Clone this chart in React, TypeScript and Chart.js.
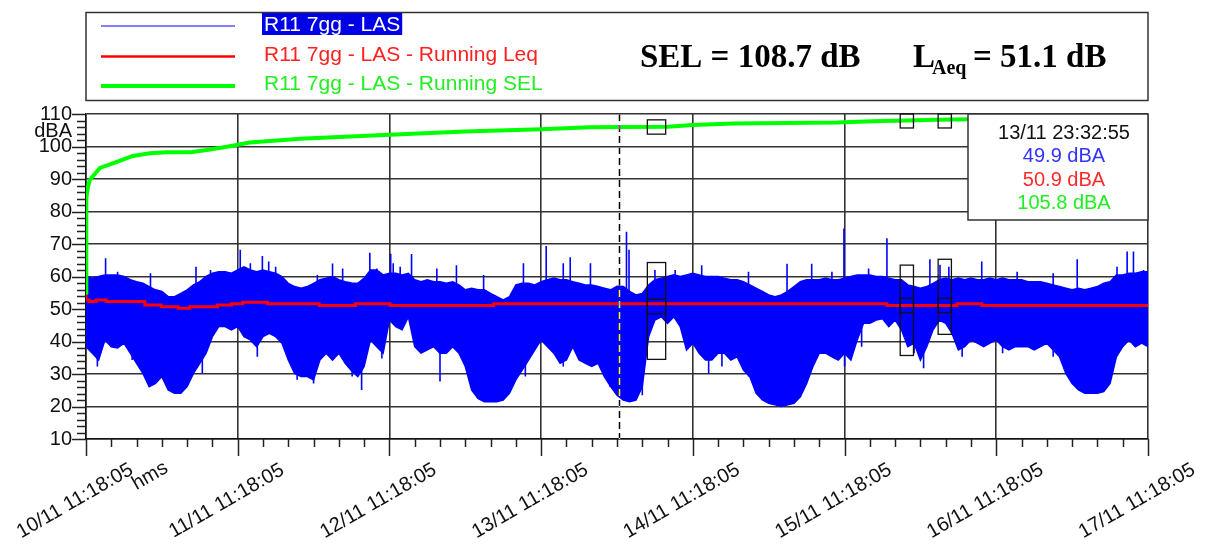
import React, { useEffect, useRef } from "react";
import { Chart, registerables } from "chart.js";

Chart.register(...registerables);

const W = 1214;
const H = 545;

// ---- data (x in hours since 10/11 11:18:05) ----
const dayLabels = [
  "10/11 11:18:05",
  "11/11 11:18:05",
  "12/11 11:18:05",
  "13/11 11:18:05",
  "14/11 11:18:05",
  "15/11 11:18:05",
  "16/11 11:18:05",
  "17/11 11:18:05",
];
const yTicks = [10, 20, 30, 40, 50, 60, 70, 80, 90, 100, 110];

// LAS hourly envelope (upper / lower of the dense signal), hours 0..168
const lasUpper = [
  60, 59.5, 60, 60.5, 60.5, 60.5, 60, 59, 58.4, 57.9, 56.9, 55.9, 55.4, 53.8, 53.8, 54.8, 55.9, 57.4, 58.4, 60,
  61, 61.5, 61.5, 61, 62, 63, 62, 61.5, 62, 61.5, 61, 60, 57.9, 56.9, 56.4, 56.9, 57.9, 59, 59.5, 60,
  59, 58.4, 58, 57.9, 59.5, 62, 62, 60.5, 61, 61, 60.5, 61, 59, 58.4, 59, 58.4, 58.4, 57.9, 58.4, 57.4,
  55.9, 56.4, 55.9, 55.9, 54.8, 53.8, 52.8, 53.8, 57.4, 57.9, 57.9, 57.4, 58.4, 59, 59.5, 59, 59, 58.4, 57.9, 57.4,
  57.4, 56.9, 56.4, 55.9, 57, 56.9, 55.4, 54.3, 54.8, 57.4, 59, 59.5, 60, 60.5, 60, 60.5, 61, 60.5, 60, 60,
  60, 59.5, 59, 59, 58.4, 57.4, 56.4, 55.4, 54.3, 53.8, 54.3, 55.4, 56.9, 58.4, 59, 59, 59, 59.5, 59, 59,
  59.5, 60, 60.5, 60.5, 60.5, 60, 60, 59.5, 59, 59, 57.4, 56.9, 56.4, 56.9, 57.9, 59, 59.5, 59, 59.5, 59,
  59.5, 59, 59, 59.5, 59, 59.5, 59, 59, 59, 58.4, 58.4, 58.4, 57.9, 57.4, 56.9, 56.4, 55.9, 56.4, 55.9, 56.4,
  56.9, 57.9, 58.4, 60.5, 60.5, 61, 61, 61.5, 61.5,
];
const lasLower = [
  38.4, 36.4, 34.3, 40.5, 38.4, 38, 39.5, 36.4, 33.3, 30.2, 26.1, 27.1, 29.2, 25.1, 24.1, 24.1, 26.1, 30.2, 33.3, 36.4,
  41.5, 44.6, 44.6, 43.6, 44.6, 41.5, 40.5, 38.4, 41.5, 42.5, 41.5, 39.5, 34.3, 30.2, 29.2, 29.2, 28.2, 34.3, 36.4, 34.3,
  36.4, 33.3, 31, 29.2, 32.3, 40.5, 38.4, 36.4, 46.6, 44.6, 43.6, 47.6, 38.4, 36.4, 37.4, 38.4, 36.4, 36.4, 38.4, 36.4,
  32.3, 25.1, 22.5, 21.5, 21.5, 21.5, 22, 24.1, 28.2, 31.2, 34.3, 37.4, 40.5, 38.4, 36.4, 33.3, 34.3, 38.4, 34.3, 33.3,
  32.3, 33.3, 29.2, 26.1, 23.5, 22, 21.5, 22, 26.1, 41.5, 46.6, 47.6, 45.6, 47.6, 44.6, 37.4, 39.5, 36.4, 34.3, 34.3,
  36.4, 36.4, 34.3, 35.3, 31.2, 29.2, 24.1, 22, 21, 20.5, 20, 20.5, 21, 23, 27.1, 32.3, 36.4, 36.4, 35.3, 34.3,
  36.4, 34.3, 40.5, 45.6, 45.6, 46.6, 47, 44.6, 46.6, 43.6, 38.4, 39.5, 34.3, 38.4, 43.6, 46.6, 45.6, 42.5, 37.4, 38.4,
  40.5, 39.5, 38.4, 39.5, 40.5, 38.4, 37.4, 38.4, 38.4, 38.4, 37.4, 38.4, 39.5, 37.4, 35.3, 30.2, 27.1, 25.1, 24.1, 24.1,
  24.1, 24.6, 27.1, 35.3, 38.4, 40.5, 38.4, 39.5, 38.4,
];
// isolated LAS peaks above the dense band [hour, dB]
const lasPeaks: [number, number][] = [
  [3.1, 65.6], [5, 61.5], [10.2, 61], [17.4, 63], [19.7, 62], [24.4, 68.2], [26, 64.1], [27.9, 66.3],
  [28.9, 64.6], [30, 63], [36.6, 60.5], [39, 64], [40.6, 62.5], [44.9, 67.3], [46, 62.5], [48.2, 67],
  [48.6, 64.1], [49.7, 63], [51.5, 66.9], [55.5, 62.5], [58.6, 63.5], [62.9, 60.5], [69.2, 64.1],
  [72.8, 69.4], [75.5, 64.1], [76.6, 65.9], [79.8, 64.1], [85.5, 73.8], [85.9, 68.2], [90, 62],
  [93.2, 62], [97.4, 63.5], [104.8, 61.5], [110.9, 63.9], [114.8, 63.9], [118, 61.5], [119.9, 74.8],
  [123.8, 62.5], [126.7, 71.8], [133.5, 65.3], [135.1, 63.6], [136.5, 63], [141.7, 64.6], [147.3, 61.5],
  [153, 61], [156.8, 65.3], [163.1, 63], [164.7, 67.7], [165.7, 67.7], [167.3, 62],
];
// isolated LAS dips below the dense band [hour, dB]
const lasDips: [number, number][] = [
  [1.8, 32.3], [7.3, 34.3], [18.4, 30.2], [27.1, 35.3], [33.4, 28.2], [36, 27.1], [42.1, 29.2],
  [43.6, 25.1], [46.8, 34.8], [56, 27.7], [69.5, 29.2], [75.5, 32.3], [82.9, 26.1], [88, 23.5],
  [98.5, 30.2], [100.6, 32.3], [104.8, 29.2], [120, 32.3], [122.7, 38.4], [131, 36.4], [132.5, 31.8],
  [138.6, 35.3], [145, 36.4], [153, 35.3], [155.2, 30.2],
];
const peakBase = 52;
const dipBase = 46;
// Running Leq: level changes [start hour, dB]
const leqSteps: [number, number][] = [
  [0, 55.5], [0.5, 52.8], [1.6, 52.3], [3.2, 52.8], [9.3, 52.3], [11.9, 51.2], [14.6, 50.7], [16.4, 50.2],
  [20.8, 50.7], [23, 51.2], [24.8, 51.6], [28.7, 52.1], [36.9, 51.6], [42.6, 51.1], [48.1, 51.6], [64.5, 51.1],
  [126.7, 51.6], [137.8, 51.1], [141.7, 51.6], [154.1, 51.1], [168, 51.1],
];
// Running SEL [hour, dB]
const selCurve: [number, number][] = [
  [0, 55], [0.05, 84], [0.3, 87.5], [0.6, 89.7], [2.2, 93.4], [4.9, 95.3], [7.4, 97.1], [10.1, 97.9],
  [12.8, 98.2], [16.5, 98.2], [19.1, 98.9], [22.3, 99.9], [25.9, 101.2], [33.9, 102.4], [48, 103.6],
  [60, 104.6], [72, 105.3], [79.7, 105.9], [92, 106.1], [96, 106.6], [102.4, 107.1], [118.8, 107.4],
  [124.5, 107.8], [134.7, 108.2], [139.6, 108.4], [168, 108.7],
];
// marker boxes: hour spans and dB ranges [SEL, LAS max/min, Leq]
const markerStart = [88.8, 128.8, 134.8];
const markerEnd = [91.7, 130.9, 136.9];
const markerSel: [number, number][] = [[103.8, 108.2], [105.7, 110], [105.7, 110]];
const markerLas: [number, number][] = [[34.5, 64.3], [35.7, 63.5], [42.2, 65.3]];
const markerLeq: [number, number][] = [[48.5, 53], [48.9, 53.3], [48.9, 53.3]];

const cursorHour = 84.25;
const cursorTime = "13/11 23:32:55";
const cursorValues = ["49.9 dBA", "50.9 dBA", "105.8 dBA"];

const seriesNames = ["R11 7gg - LAS", "R11 7gg - LAS - Running Leq", "R11 7gg - LAS - Running SEL"];
const selText = "SEL = 108.7 dB";
const laeqValue = "= 51.1 dB";

const BLUE = "#0000ff";
const RED = "#ff0000";
const GREEN = "#00ff00";
const SANS = '"Liberation Sans", Arial, sans-serif';
const SERIF = '"Liberation Serif", "Times New Roman", serif';

const decoPlugin = {
  id: "deco",
  beforeDraw(chart: any) {
    const ctx = chart.ctx;
    ctx.save();
    ctx.fillStyle = "#ffffff";
    ctx.fillRect(0, 0, chart.width, chart.height);
    ctx.restore();
  },
  afterDraw(chart: any) {
    const ctx: CanvasRenderingContext2D = chart.ctx;
    const xs = chart.scales.x;
    const ys = chart.scales.y;
    const { left, right, top, bottom } = chart.chartArea;
    ctx.save();

    // tick marks
    ctx.strokeStyle = "#222";
    ctx.lineWidth = 1.5;
    ctx.beginPath();
    for (let v = 10; v <= 110; v += 2) {
      const y = Math.round(ys.getPixelForValue(v)) + 0.5;
      const len = v % 10 === 0 ? 14 : 9;
      ctx.moveTo(left - len, y);
      ctx.lineTo(left, y);
    }
    for (let h = 0; h <= 168; h += 4) {
      const x = Math.round(xs.getPixelForValue(h)) + 0.5;
      const len = h % 24 === 0 ? 17 : 8;
      ctx.moveTo(x, bottom);
      ctx.lineTo(x, bottom + len);
    }
    ctx.stroke();

    // x labels (rotated)
    ctx.fillStyle = "#111";
    ctx.font = `20px ${SANS}`;
    ctx.textAlign = "center";
    ctx.textBaseline = "middle";
    dayLabels.forEach((lab, i) => {
      const x = xs.getPixelForValue(i * 24);
      ctx.save();
      ctx.translate(x - 11, 501);
      ctx.rotate((-30 * Math.PI) / 180);
      ctx.fillText(lab, 0, 0);
      ctx.restore();
    });
    ctx.save();
    ctx.translate(left + 64, 476);
    ctx.rotate((-30 * Math.PI) / 180);
    ctx.fillText("hms", 0, 0);
    ctx.restore();

    // y unit
    ctx.textAlign = "right";
    ctx.textBaseline = "alphabetic";
    ctx.fillText("dBA", left - 14, 136.5);

    // marker boxes
    ctx.strokeStyle = "#111";
    ctx.lineWidth = 1.3;
    markerStart.forEach((h0, i) => {
      const x0 = xs.getPixelForValue(h0);
      const x1 = xs.getPixelForValue(markerEnd[i]);
      [markerSel[i], markerLas[i], markerLeq[i]].forEach(([lo, hi]) => {
        const y0 = ys.getPixelForValue(hi);
        const y1 = ys.getPixelForValue(lo);
        ctx.strokeRect(x0, y0, x1 - x0, y1 - y0);
      });
    });

    // cursor (inverting dashed line)
    ctx.save();
    ctx.globalCompositeOperation = "difference";
    ctx.strokeStyle = "#ffffff";
    ctx.lineWidth = 1.5;
    ctx.setLineDash([7, 4]);
    const cx = Math.round(xs.getPixelForValue(cursorHour)) + 0.5;
    ctx.beginPath();
    ctx.moveTo(cx, top);
    ctx.lineTo(cx, bottom);
    ctx.stroke();
    ctx.restore();

    // info box
    const bx = right - 180;
    const bw = 180;
    const bh = 106;
    ctx.fillStyle = "#fff";
    ctx.fillRect(bx, top, bw, bh);
    ctx.strokeStyle = "#333";
    ctx.lineWidth = 1.5;
    ctx.strokeRect(bx, top, bw, bh);
    ctx.font = `20px ${SANS}`;
    ctx.textAlign = "center";
    ctx.textBaseline = "alphabetic";
    const tcx = bx + 96;
    ctx.fillStyle = "#111";
    ctx.fillText(cursorTime, tcx, top + 24.5);
    const infoColors = ["#3333ff", "#ff2a2a", "#22ee22"];
    cursorValues.forEach((t, i) => {
      ctx.fillStyle = infoColors[i];
      ctx.fillText(t, tcx, top + 48 + i * 23.5);
    });

    // legend box
    ctx.strokeStyle = "#333";
    ctx.lineWidth = 1.5;
    ctx.strokeRect(left, 12.5, right - left, 88);
    const rowsLineY = [26, 56.5, 86];
    const rowsTextY = [31, 61, 90];
    const lineW = [1, 2.5, 4];
    const cols = [BLUE, RED, GREEN];
    const txtCols = ["#ffffff", "#ff2020", "#22ee22"];
    ctx.font = `21px ${SANS}`;
    ctx.textAlign = "left";
    seriesNames.forEach((name, i) => {
      ctx.strokeStyle = cols[i];
      ctx.lineWidth = lineW[i];
      ctx.beginPath();
      ctx.moveTo(left + 15, rowsLineY[i]);
      ctx.lineTo(left + 149, rowsLineY[i]);
      ctx.stroke();
      const tw = ctx.measureText(name).width;
      if (i === 0) {
        ctx.fillStyle = "#0000e6";
        ctx.fillRect(262, 13, tw + 4, 22);
      }
      ctx.fillStyle = txtCols[i];
      ctx.fillText(name, 264, rowsTextY[i]);
    });

    // SEL / LAeq
    ctx.fillStyle = "#000";
    ctx.font = `bold 33px ${SERIF}`;
    ctx.fillText(selText, 640, 67);
    ctx.fillText("L", 913, 67);
    ctx.font = `bold 20px ${SERIF}`;
    ctx.fillText("Aeq", 932, 74);
    ctx.font = `bold 33px ${SERIF}`;
    ctx.fillText(laeqValue, 973, 67);

    ctx.restore();
  },
};

export default function App() {
  const ref = useRef<HTMLCanvasElement>(null);
  useEffect(() => {
    document.body.style.margin = "0";
    const spikeData: any[] = [];
    lasPeaks.forEach(([h, v]) => {
      spikeData.push({ x: h, y: peakBase }, { x: h, y: v }, { x: h, y: null });
    });
    lasDips.forEach(([h, v]) => {
      spikeData.push({ x: h, y: dipBase }, { x: h, y: v }, { x: h, y: null });
    });
    const chart = new Chart(ref.current as HTMLCanvasElement, {
      type: "line",
      data: {
        datasets: [
          {
            label: seriesNames[2],
            data: selCurve.map(([x, y]) => ({ x, y })),
            borderColor: GREEN,
            borderWidth: 4,
            pointRadius: 0,
            fill: false,
          },
          {
            label: seriesNames[1],
            data: leqSteps.map(([x, y]) => ({ x, y })),
            borderColor: RED,
            borderWidth: 3,
            pointRadius: 0,
            stepped: "after",
            fill: false,
          },
          {
            label: "spikes",
            data: spikeData,
            borderColor: BLUE,
            borderWidth: 1.6,
            pointRadius: 0,
            spanGaps: false,
            fill: false,
          },
          {
            label: seriesNames[0],
            data: lasUpper.map((y, x) => ({ x, y })),
            borderColor: BLUE,
            backgroundColor: BLUE,
            borderWidth: 1.5,
            pointRadius: 0,
            fill: "+1",
          },
          {
            label: "lower",
            data: lasLower.map((y, x) => ({ x, y })),
            borderColor: BLUE,
            borderWidth: 1.5,
            pointRadius: 0,
            fill: false,
          },
        ],
      } as any,
      options: {
        animation: false,
        responsive: false,
        devicePixelRatio: 1,
        layout: { padding: { left: 0, top: 114, right: 66, bottom: 0 } },
        plugins: { legend: { display: false }, tooltip: { enabled: false } },
        events: [],
        scales: {
          x: {
            type: "linear",
            min: 0,
            max: 168,
            afterFit(scale: any) {
              scale.height = 106;
            },
            ticks: { stepSize: 24, display: false },
            grid: { color: "#333", lineWidth: 1.6, drawTicks: false },
            border: { display: true, color: "#111", width: 1.5 },
          },
          y: {
            type: "linear",
            min: 10,
            max: 110,
            afterFit(scale: any) {
              scale.width = 86;
            },
            afterBuildTicks(scale: any) {
              scale.ticks = yTicks.map((v) => ({ value: v }));
            },
            ticks: {
              padding: 14,
              color: "#111",
              font: { family: SANS, size: 20 },
            },
            grid: { color: "#333", lineWidth: 1.6, drawTicks: false },
            border: { display: true, color: "#111", width: 1.5 },
          },
        },
      } as any,
      plugins: [decoPlugin],
    });
    return () => chart.destroy();
  }, []);
  return (
    <div style={{ width: W, height: H }}>
      <canvas ref={ref} width={W} height={H} style={{ display: "block", width: W, height: H }} />
    </div>
  );
}
